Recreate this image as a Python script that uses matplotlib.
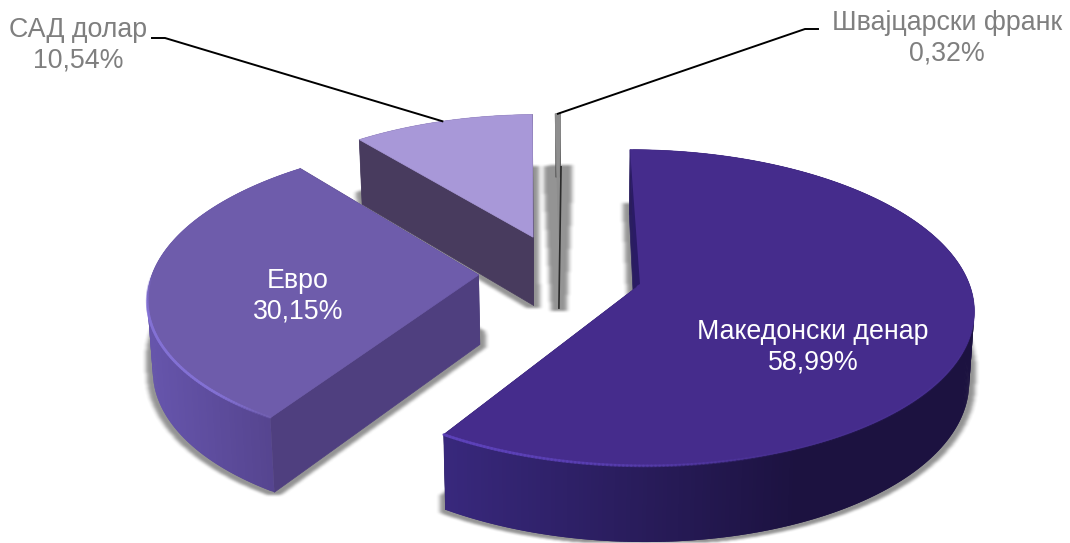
import matplotlib
matplotlib.use('Agg')
import matplotlib.pyplot as plt
import numpy as np
from matplotlib.collections import LineCollection, PolyCollection
from matplotlib.colors import to_rgb
from matplotlib.path import Path
from matplotlib.patches import Polygon

plt.rcParams['font.family'] = ['Liberation Sans', 'DejaVu Sans']

W, H = 1070, 543

# currency structure, clockwise from twelve o'clock
currencies = ['Македонски денар', 'Евро', 'САД долар', 'Швајцарски франк']
shares = [58.99, 30.15, 10.54, 0.32]

# how far each slice is pulled out of the pie, in radius units
explode_u = [0.179, -0.297, -0.137, -0.057]
explode_v = [0.0, 0.078, 0.333, 0.315]
radius = [0.995, 0.985, 0.96, 0.985]

top_colors = ['#452C8C', '#6E5CAB', '#A898D8', '#8E8E8E']
wall_colors = ['#2A1E60', '#4F3F7F', '#483B5E', '#2B2B2B']
# rim colour between two screen positions: dark end first
rim_colors = [('#1C1240', '#38287C'), ('#564590', '#6655AC'),
              ('#483B5E', '#483B5E'), ('#555555', '#555555')]
rim_span = [(800, 450), (270, 150), (530, 350), (560, 550)]
bevel_colors = ['#5E43BC', '#8472D6', '#A898D8', '#8E8E8E']

label_colors = ['white', 'white', '#7F7F7F', '#7F7F7F']
label_xy = [(813, 347), (298, 296), (78, 45), (947, 38)]
# elbow of the leader line and its end next to the label
leader_xy = [None, None, ((165, 38), (152, 38)), ((805, 29), (818, 29))]

# perspective of the pie plane
CX, PERSP, RX = 577.0, 0.132, 335.0
Y_FAR, Y_SCALE = -896.0, 1183.0
SIDE = 70.0


def project(u, v, z=0.0):
    t = 1 + PERSP * np.asarray(v, dtype=float)
    x = CX + RX * np.asarray(u, dtype=float) / t
    y = Y_FAR + Y_SCALE / t
    x = CX + (x - CX) * (1 - 0.013 * z)
    y = y + z * SIDE / t ** 0.6
    return x, y


def box_blur(a, rx, ry):
    # separable running mean, used for the soft shadow
    if rx > 0:
        c = np.cumsum(np.pad(a, ((0, 0), (rx + 1, rx))), axis=1)
        a = (c[:, 2 * rx + 1:] - c[:, :-(2 * rx + 1)]) / (2 * rx + 1)
    if ry > 0:
        c = np.cumsum(np.pad(a, ((ry + 1, ry), (0, 0))), axis=0)
        a = (c[2 * ry + 1:, :] - c[:-(2 * ry + 1), :]) / (2 * ry + 1)
    return a


def arc(i, theta):
    return explode_u[i] + radius[i] * np.sin(theta), explode_v[i] + radius[i] * np.cos(theta)


fig = plt.figure(figsize=(W / 100, H / 100), dpi=100)
ax = fig.add_axes([0, 0, 1, 1])

edges = np.radians(np.concatenate([[0], np.cumsum(shares)]) * 3.6)
sweeps = [np.linspace(edges[i], edges[i + 1], max(int(shares[i] * 6), 8)) for i in range(len(shares))]

# shadow: the slice outlines pushed down, spread sideways and softened
xx, yy = np.meshgrid(np.arange(W) + 0.5, np.arange(H) + 0.5)
grid = np.column_stack([xx.ravel(), yy.ravel()])
mask = np.zeros((H, W), dtype=bool)
for i in range(len(shares)):
    theta = sweeps[i]
    if shares[i] < 1:
        # too narrow to hit the pixel grid near its tip
        theta = np.linspace(edges[i] - 0.02, edges[i + 1] + 0.02, 8)
    u, v = arc(i, theta)
    u = np.r_[explode_u[i] - (0.006 if shares[i] < 1 else 0), u, explode_u[i] + (0.006 if shares[i] < 1 else 0)]
    v = np.r_[explode_v[i], v, explode_v[i]]
    for z in (0.86, 0.9, 0.95, 1.0):
        px, py = project(u, v, z)
        mask |= Path(np.column_stack([px, py])).contains_points(grid).reshape(H, W)

spread = (box_blur(mask.astype(float), 6, 3) > 0.001).astype(float)
soft = box_blur(box_blur(spread, 2, 1), 2, 1)
shadow = np.zeros((H, W, 4))
shadow[..., :3] = 0.22
shadow[..., 3] = soft * 0.54
ax.imshow(shadow, extent=(0, W, H, 0), aspect='auto', zorder=0, interpolation='bilinear')

# far slices first so the nearer ones overlap them
for i in reversed(range(len(shares))):
    order = 10 + (len(shares) - i) * 10
    au, av = explode_u[i], explode_v[i]
    theta = sweeps[i]
    u, v = arc(i, theta)
    thin = shares[i] < 1

    # radial walls
    if not thin:
        for k in (0, -1):
            x0, y0 = project([au, u[k]], [av, v[k]], 0)
            x1, y1 = project([au, u[k]], [av, v[k]], 1)
            pts = np.column_stack([np.r_[x0, x1[::-1]], np.r_[y0, y1[::-1]]])
            ax.add_patch(Polygon(pts, closed=True, fc=wall_colors[i], ec=wall_colors[i], lw=0.5, zorder=order))

    # outer rim as overlapping strips, shaded across the screen
    x0, y0 = project(u, v, 0)
    x1, y1 = project(u, v, 1)
    n = len(theta)
    strips = []
    for j in range(n - 1):
        e = min(j + 2, n - 1)
        strips.append([(x0[j], y0[j]), (x0[e], y0[e]), (x1[e], y1[e]), (x1[j], y1[j])])
    f = np.clip((x0[:-1] - rim_span[i][0]) / (rim_span[i][1] - rim_span[i][0]), 0, 1)
    c0, c1 = np.array(to_rgb(rim_colors[i][0])), np.array(to_rgb(rim_colors[i][1]))
    strip_rgb = c0 + (c1 - c0) * f[:, None]
    ax.add_collection(PolyCollection(strips, facecolors=strip_rgb, edgecolors='none', zorder=order + 1))

    # top face
    px, py = project(np.r_[au, u], np.r_[av, v], 0)
    ax.add_patch(Polygon(np.column_stack([px, py]), closed=True, fc=top_colors[i], ec=top_colors[i], lw=0.5, zorder=order + 2))

    # lit bevel along the front of the rim
    if shares[i] > 20:
        segs = [[(x0[j], y0[j]), (x0[j + 1], y0[j + 1])] for j in range(n - 1)]
        fade = np.clip(-np.cos((theta[:-1] + theta[1:]) / 2) * 1.6, 0, 1) * 0.85 * np.clip(f * 1.1, 0.08, 1)
        rgba = np.tile(np.r_[to_rgb(bevel_colors[i]), 0], (n - 1, 1))
        rgba[:, 3] = fade if i == 0 else np.clip(fade * 2, 0, 0.85)
        ax.add_collection(LineCollection(segs, colors=rgba, linewidths=2.0, zorder=order + 3, capstyle='round'))

    # the sliver's wall reads as a dark hairline under its top face
    if thin:
        lx0, ly0 = project([au + 0.55 * (u[-1] - au)], [av + 0.55 * (v[-1] - av)], 0)
        lx1, ly1 = project([au], [av], 1)
        ax.plot([lx0[0] + 1.2, lx1[0]], [ly0[0], ly1[0]], color=wall_colors[i], lw=1.2, zorder=order + 4)

# dark sliver of the first wall showing past the top face of the biggest slice
tx, ty = project([explode_u[0], explode_u[0]], [explode_v[0] + radius[0], explode_v[0]], 0)
ax.add_patch(Polygon([(tx[0], ty[0]), (tx[1] + 3, ty[1] - 3), (tx[1] - 2, ty[1])], closed=True,
                     fc='#2A1B66', ec='none', zorder=60))

# thin light seam where the euro slice meets the wall behind it
su, sv = arc(1, edges[2])
sx, sy = project([su, explode_u[1]], [sv, explode_v[1]], 0)
ax.plot(sx, sy, color='#B5B0BE', lw=0.9, zorder=29, alpha=0.8)

# labels and leader lines
for i, name in enumerate(currencies):
    text = name + '\n' + f'{shares[i]:.2f}'.replace('.', ',') + '%'
    ax.text(label_xy[i][0], label_xy[i][1], text, color=label_colors[i], fontsize=19.3,
            ha='center', va='center', linespacing=1.24, zorder=70)
    if leader_xy[i] is not None:
        ex, ey = project(*arc(i, (edges[i] + edges[i + 1]) / 2), 0)
        elbow, end = leader_xy[i]
        ax.plot([float(ex), elbow[0], end[0]], [float(ey), elbow[1], end[1]], color='black', lw=1.4, zorder=65,
                solid_joinstyle='miter')

ax.set_xlim(0, W)
ax.set_ylim(H, 0)
ax.axis('off')
fig.savefig('out.png', dpi=100, facecolor='white')
